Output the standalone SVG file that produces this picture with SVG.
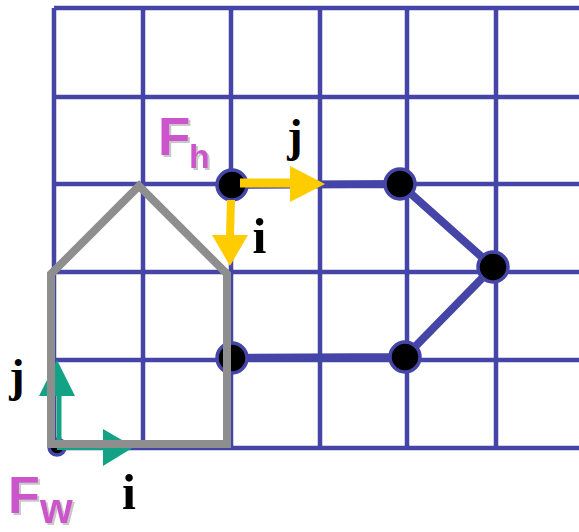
<svg xmlns="http://www.w3.org/2000/svg" width="579" height="532" viewBox="0 0 579 532">
<defs>
<style>
.grid{stroke:#4545a8;stroke-width:4.5;fill:none}
.shape{stroke:#4545a8;stroke-width:8;fill:none;stroke-linejoin:round}
.dot{fill:#000;stroke:#4545a8;stroke-width:3.5}
.house{stroke:#8e8e8e;stroke-width:8;fill:none;stroke-linejoin:miter}
.yel{stroke:#ffcc00;fill:none}
.yelh{fill:#ffcc00}
.grn{stroke:#13a286;fill:none}
.grnh{fill:#13a286}
.lbl{font-family:"Liberation Serif","Times New Roman",serif;font-weight:bold;fill:#000;text-anchor:middle}
.frm{font-family:"Liberation Sans",Arial,sans-serif;font-weight:bold;fill:#cc55cc;filter:url(#sh)}
</style>
<filter id="sh" x="-10%" y="-10%" width="130%" height="125%">
<feDropShadow dx="2" dy="2" stdDeviation="0.6" flood-color="#c8c8c8"/>
</filter>
</defs>
<rect width="579" height="532" fill="#fff"/>
<g id="grid" class="grid">
<path d="M54,8V448M143,8V448M231,8V448M320,8V448M407,8V448M496,8V448"/>
<path d="M54,8H579M54,97H579M54,184H579M54,272H579M54,360H579M54,448H579"/>
</g>
<g id="connectors">
<polyline class="shape" points="232,185 400,184 493,267 405,357 232,358"/>
</g>
<g id="node-1"><circle class="dot" cx="232" cy="185" r="15"/></g>
<g id="node-2"><circle class="dot" cx="400" cy="184" r="15"/></g>
<g id="node-3"><circle class="dot" cx="493" cy="267" r="15"/></g>
<g id="node-4"><circle class="dot" cx="405" cy="357" r="15"/></g>
<g id="node-5"><circle class="dot" cx="232" cy="358" r="15"/></g>
<g id="node-origin"><circle class="dot" cx="57" cy="447" r="8"/></g>
<g id="world-axes">
<path class="grn" stroke-width="5" d="M59,447V394"/>
<polygon class="grnh" points="57,360 39,396 75,396"/>
<path class="grn" stroke-width="6" d="M57,447H105"/>
<polygon class="grnh" points="134,447 103,429 103,466"/>
</g>
<g id="house">
<path class="house" d="M51,444V274L139,186L227,274V444Z"/>
</g>
<g id="house-axes">
<path class="yel" stroke-width="9" d="M240,183H292"/>
<polygon class="yelh" points="325,184 290,166 290,202"/>
<path class="yel" stroke-width="8" d="M231,200L230,237"/>
<polygon class="yelh" points="230,266 212,235 248,235"/>
</g>
<g id="labels">
<text class="lbl" x="295" y="151" font-size="46">j</text>
<text class="lbl" x="259.5" y="253" font-size="50">i</text>
<text class="lbl" x="17" y="391" font-size="46">j</text>
<text class="lbl" x="129" y="509" font-size="50">i</text>
<text class="frm" x="158" y="155" font-size="53">F<tspan x="189" y="168" font-size="34">h</tspan></text>
<text class="frm" x="8" y="513" font-size="52">F<tspan x="40" y="523" font-size="42">w</tspan></text>
</g>
</svg>
